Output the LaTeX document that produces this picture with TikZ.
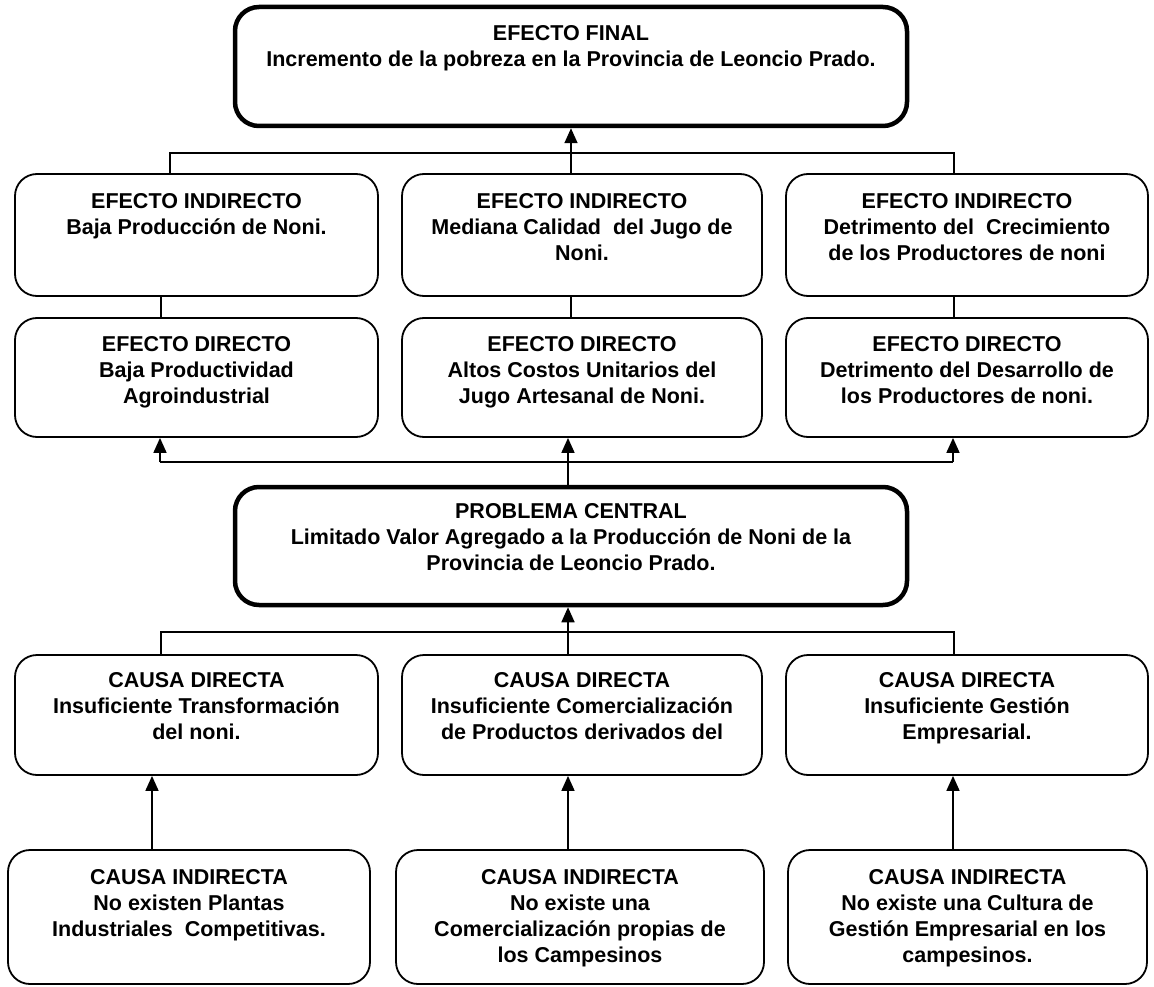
\documentclass[tikz,border=0pt]{standalone}
\usepackage{fontspec}
\setmainfont{Liberation Sans}
\usetikzlibrary{arrows.meta,calc}
\begin{document}
\begin{tikzpicture}[x=1pt,y=-1pt,
  box/.style={draw=black, line width=1.8pt, rounded corners=22pt, inner sep=0pt},
  keybox/.style={box, line width=4.5pt, rounded corners=24pt},
  txt/.style={anchor=north, align=center, inner sep=0pt,
    font=\bfseries\fontsize{21.5}{26}\selectfont},
  link/.style={line width=1.7pt},
  arr/.style={link, -{Triangle[length=15pt,width=13pt]}}]
\useasboundingbox (0,0) rectangle (1154,987);

% ---- boxes ----
\node[keybox, minimum width=672, minimum height=119] (tf) at (571,66.5) {};

\node[box, minimum width=363, minimum height=122] (ei1) at (196.5,235) {};
\node[box, minimum width=360, minimum height=122] (ei2) at (582,235) {};
\node[box, minimum width=362, minimum height=122] (ei3) at (967,235) {};

\node[box, minimum width=363, minimum height=119] (ed1) at (196.5,377.5) {};
\node[box, minimum width=360, minimum height=119] (ed2) at (582,377.5) {};
\node[box, minimum width=362, minimum height=119] (ed3) at (967,377.5) {};

\node[keybox, minimum width=672, minimum height=118] (pc) at (571,546) {};

\node[box, minimum width=363, minimum height=120] (cd1) at (196.5,715) {};
\node[box, minimum width=360, minimum height=120] (cd2) at (582,715) {};
\node[box, minimum width=362, minimum height=120] (cd3) at (967,715) {};

\node[box, minimum width=362, minimum height=134] (ci1) at (189,917) {};
\node[box, minimum width=368, minimum height=134] (ci2) at (580,917) {};
\node[box, minimum width=359, minimum height=134] (ci3) at (967.5,917) {};

% ---- texts ----
\node[txt] (tft) at ($(tf.north)+(0,21)$) {EFECTO FINAL\\Incremento de la pobreza en la Provincia de Leoncio Prado.};

\node[txt] (ei1t) at ($(ei1.north)+(0,20)$) {EFECTO INDIRECTO\\Baja Producción de Noni.};
\node[txt] (ei2t) at ($(ei2.north)+(0,20)$) {EFECTO INDIRECTO\\Mediana Calidad\ \ del Jugo de\\Noni.};
\node[txt] (ei3t) at ($(ei3.north)+(0,20)$) {EFECTO INDIRECTO\\Detrimento del\ \ Crecimiento\\de los Productores de noni};

\node[txt] (ed1t) at ($(ed1.north)+(0,19)$) {EFECTO DIRECTO\\Baja Productividad\\Agroindustrial};
\node[txt] (ed2t) at ($(ed2.north)+(0,19)$) {EFECTO DIRECTO\\Altos Costos Unitarios del\\Jugo Artesanal de Noni.};
\node[txt] (ed3t) at ($(ed3.north)+(0,19)$) {EFECTO DIRECTO\\Detrimento del Desarrollo de\\los Productores de noni.};

\node[txt] (pct) at ($(pc.north)+(0,19)$) {PROBLEMA CENTRAL\\Limitado Valor Agregado a la Producción de Noni de la\\Provincia de Leoncio Prado.};

\node[txt] (cd1t) at ($(cd1.north)+(0,18)$) {CAUSA DIRECTA\\Insuficiente Transformación\\del noni.};
\node[txt] (cd2t) at ($(cd2.north)+(0,18)$) {CAUSA DIRECTA\\Insuficiente Comercialización\\de Productos derivados del};
\node[txt] (cd3t) at ($(cd3.north)+(0,18)$) {CAUSA DIRECTA\\Insuficiente Gestión\\Empresarial.};

\node[txt] (ci1t) at ($(ci1.north)+(0,20)$) {CAUSA INDIRECTA\\No existen Plantas\\Industriales\ \ Competitivas.};
\node[txt] (ci2t) at ($(ci2.north)+(0,20)$) {CAUSA INDIRECTA\\No existe una\\Comercialización propias de\\los Campesinos};
\node[txt] (ci3t) at ($(ci3.north)+(0,20)$) {CAUSA INDIRECTA\\No existe una Cultura de\\Gestión Empresarial en los\\campesinos.};

% ---- bus junctions ----
\coordinate (b1L) at (170,153);
\coordinate (b1R) at (954,153);
\coordinate (b2L) at (160,462);
\coordinate (b2R) at (953,462);
\coordinate (b3L) at (161,632);
\coordinate (b3R) at (954,632);
\coordinate (cl) at (152,0);
\coordinate (cm) at (568,0);
\coordinate (cr) at (953,0);

% indirect effects -> final effect
\draw[link] (ei1.north -| b1L) -- (b1L) -- (b1R) -- (ei3.north -| b1R);
\draw[arr] (tf.south |- ei2.north) -- (tf.south);

% direct effects -> indirect effects
\draw[link] (ed1.north -| b3L) -- (ei1.south -| b3L);
\draw[link] (ed2.north -| tf.south) -- (ei2.south -| tf.south);
\draw[link] (ed3.north -| b1R) -- (ei3.south -| b1R);

% central problem -> direct effects
\draw[link] (b2L) -- (b2R);
\draw[arr] (b2L) -- (ed1.south -| b2L);
\draw[arr] (b2R) -- (ed3.south -| b2R);
\draw[arr] (pc.north -| cm) -- (ed2.south -| cm);

% direct causes -> central problem
\draw[link] (cd1.north -| b3L) -- (b3L) -- (b3R) -- (cd3.north -| b3R);
\draw[arr] (cd2.north -| cm) -- (pc.south -| cm);

% indirect causes -> direct causes
\draw[arr] (ci1.north -| cl) -- (cd1.south -| cl);
\draw[arr] (ci2.north -| cm) -- (cd2.south -| cm);
\draw[arr] (ci3.north -| cr) -- (cd3.south -| cr);
\end{tikzpicture}
\end{document}
